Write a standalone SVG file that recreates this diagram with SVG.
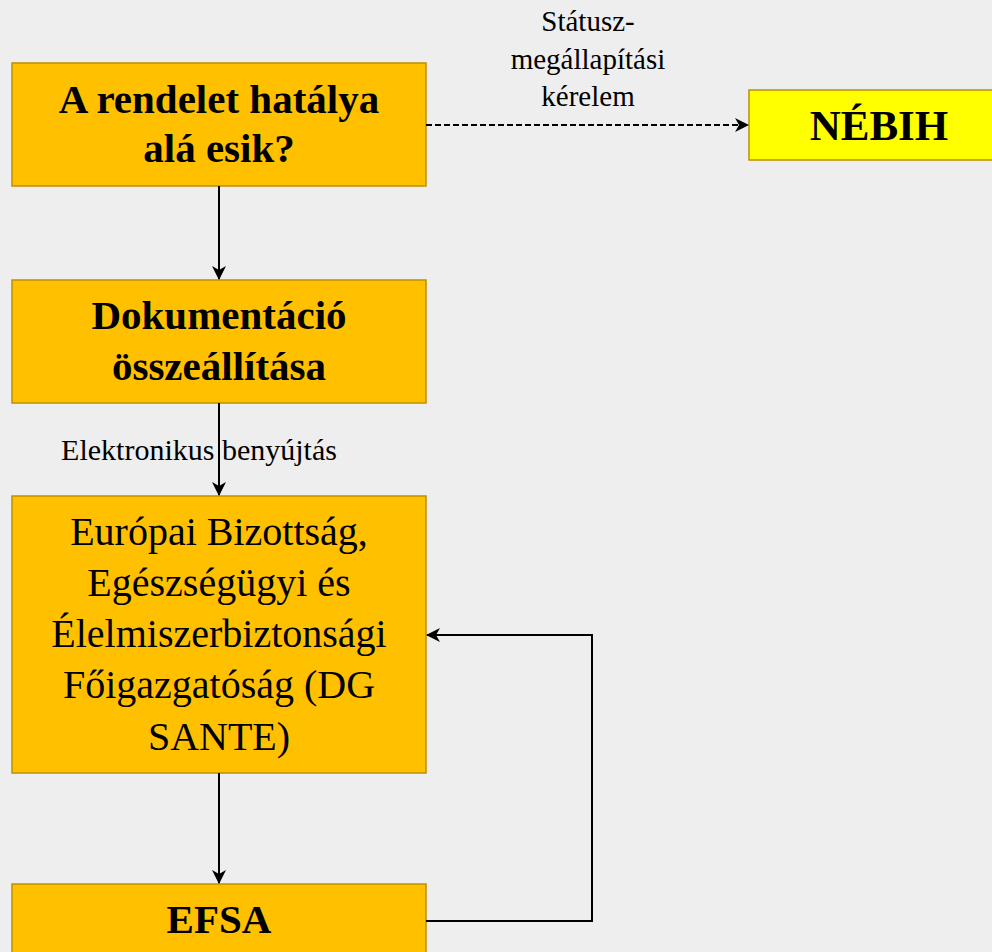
<svg xmlns="http://www.w3.org/2000/svg" width="992" height="952" viewBox="0 0 992 952">
<defs>
<style>
.box{fill:#FFC000;stroke:#BF9000;stroke-width:1.5}
.ybox{fill:#FFFF00;stroke:#BF9000;stroke-width:1.5}
.t{font-family:"Liberation Serif","Times New Roman",serif;fill:#000;text-anchor:middle}
.b{font-weight:bold;font-size:41px}
.r{font-size:40px}
.s{font-size:29px}
.c{fill:none;stroke:#000;stroke-width:2}
.d{stroke-dasharray:6 3}
</style>
<marker id="ah" viewBox="0 0 14 14" refX="13" refY="7" markerWidth="14" markerHeight="14" markerUnits="userSpaceOnUse" orient="auto">
<path d="M0,0 L14,7 L0,14 L4,7 Z" fill="#000"/>
</marker>
</defs>
<rect x="0" y="0" width="992" height="952" fill="#EEEEEE"/>
<g id="n1">
<rect class="box" x="12" y="63" width="414" height="123"/>
<text class="t b" x="219" y="113">A rendelet hatálya</text>
<text class="t b" x="219" y="162">alá esik?</text>
</g>
<g id="n2">
<rect class="ybox" x="749" y="90" width="250" height="70"/>
<text class="t b" x="879" y="140" style="font-size:43px">NÉBIH</text>
</g>
<g id="n3">
<rect class="box" x="12" y="280" width="414" height="123"/>
<text class="t b" x="219" y="329">Dokumentáció</text>
<text class="t b" x="219" y="380">összeállítása</text>
</g>
<g id="n4">
<rect class="box" x="12" y="496" width="414" height="277"/>
<text class="t r" x="219" y="545">Európai Bizottság,</text>
<text class="t r" x="219" y="596">Egészségügyi és</text>
<text class="t r" x="219" y="647">Élelmiszerbiztonsági</text>
<text class="t r" x="219" y="698">Főigazgatóság (DG</text>
<text class="t r" x="219" y="750">SANTE)</text>
</g>
<g id="n5">
<rect class="box" x="12" y="884" width="414" height="80"/>
<text class="t b" x="219" y="933">EFSA</text>
</g>
<g id="connectors">
<line class="c" x1="219" y1="186" x2="219" y2="279" marker-end="url(#ah)"/>
<line class="c" x1="219" y1="403" x2="219" y2="495" marker-end="url(#ah)"/>
<line class="c" x1="219" y1="773" x2="219" y2="883" marker-end="url(#ah)"/>
<line class="c d" x1="426" y1="125" x2="748" y2="125" marker-end="url(#ah)"/>
<polyline class="c" points="426,921 592,921 592,635 427,635" marker-end="url(#ah)"/>
<text class="t s" x="588" y="31">Státusz-</text>
<text class="t s" x="588" y="69">megállapítási</text>
<text class="t s" x="588" y="106">kérelem</text>
<text class="t s" x="199" y="460" style="font-size:30px">Elektronikus benyújtás</text>
</g>
</svg>
